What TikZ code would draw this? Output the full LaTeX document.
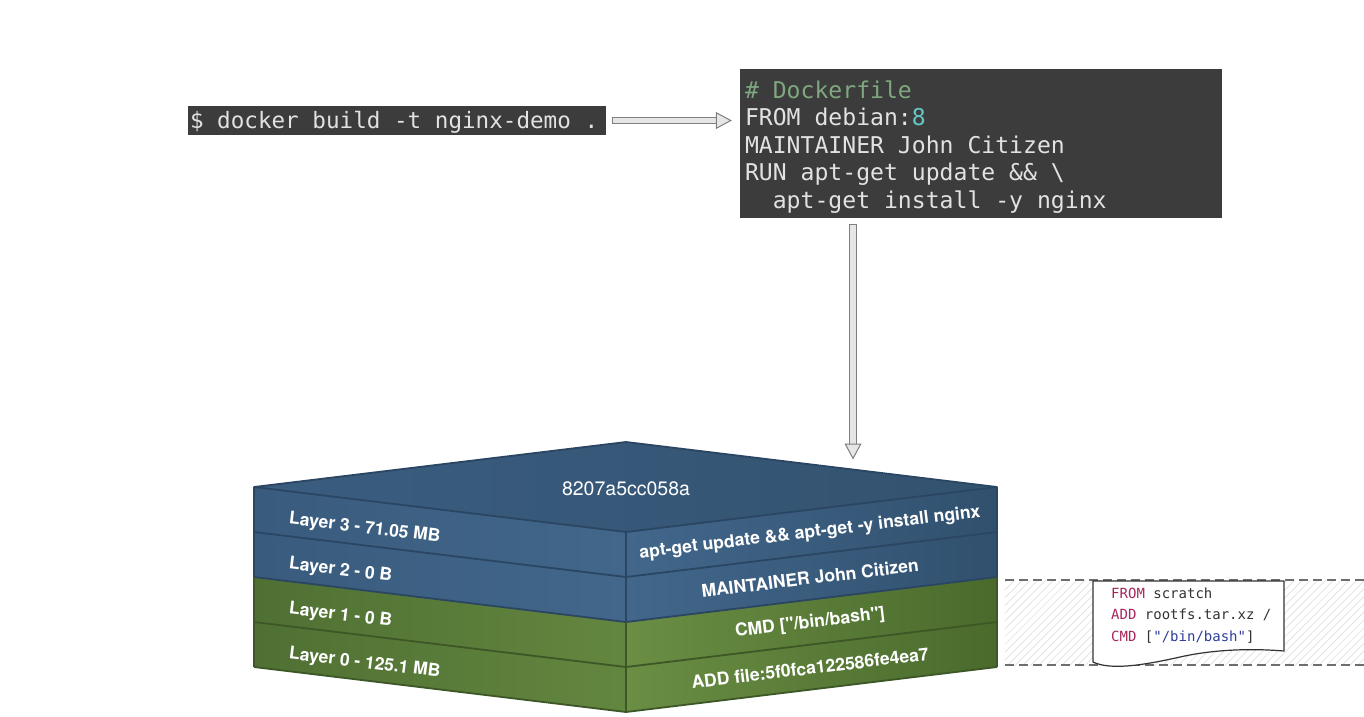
\documentclass[tikz,border=0pt]{standalone}
\usepackage{fontspec}
\setmainfont{TeX Gyre Heros}
\newfontfamily\codefont{DejaVu Sans Mono}
\newcommand\monospaces{\spaceskip=\fontcharwd\font`\a\relax\xspaceskip=\spaceskip}
\usetikzlibrary{arrows.meta,patterns.meta,calc}

\definecolor{codebg}{HTML}{3C3C3C}
\definecolor{codefg}{HTML}{E2E2E2}
\definecolor{codecomment}{HTML}{80A880}
\definecolor{codenum}{HTML}{66C6C6}
\definecolor{arrline}{HTML}{7F7F7F}
\definecolor{arrfill}{HTML}{E6E6E6}
\definecolor{topL}{HTML}{3A5D80}
\definecolor{topM}{HTML}{43688C}
\definecolor{topR}{HTML}{33526F}
\definecolor{blL}{HTML}{395B7D}
\definecolor{blR}{HTML}{42678B}
\definecolor{brL}{HTML}{42678B}
\definecolor{brR}{HTML}{31506E}
\definecolor{glL}{HTML}{4F7033}
\definecolor{glR}{HTML}{63863F}
\definecolor{grL}{HTML}{6A8E44}
\definecolor{grR}{HTML}{4A6A2C}
\definecolor{bedge}{HTML}{2B4663}
\definecolor{gedge}{HTML}{3D5727}
\definecolor{hatchcol}{HTML}{D8D8D8}
\definecolor{dashcol}{HTML}{6E6E6E}
\definecolor{kwcol}{HTML}{A6265D}
\definecolor{plaincol}{HTML}{333333}
\definecolor{strcol}{HTML}{2C3E9B}

\tikzset{
  cmdbox/.style={fill=codebg, text=codefg, align=left},
  hollowarrow/.style n args={2}{draw=arrfill, line width=5.6pt, shorten <=6.8pt, shorten >=#1,
    -{Triangle[length=16pt,width=17pt,line width=1pt,fill=arrfill,color=arrline]},
    preaction={draw=arrline, line width=7.4pt, arrows=-, shorten <=6pt, shorten >=#2}},
  lefttag/.style={anchor=west, text=white, font=\bfseries\fontsize{17.5}{20}\selectfont, inner sep=0pt, rotate=-6.9},
  righttag/.style={anchor=center, text=white, font=\bfseries\fontsize{17.6}{20}\selectfont, inner sep=0pt, rotate=6.9},
  toptag/.style={text=white, font=\fontsize{19.5}{22}\selectfont, inner sep=0pt},
  edgeline/.style={line width=1.8pt, line join=round},
  dashline/.style={draw=dashcol, line width=1.5pt, dash pattern=on 9pt off 5pt},
  docshape/.style={draw=plaincol, fill=white, line width=1.2pt, line join=round},
  doccode/.style={anchor=west, inner sep=0pt, text=plaincol, font=\codefont\fontsize{14}{16}\selectfont}
}

\begin{document}
\begin{tikzpicture}[x=1pt,y=-1pt]
\useasboundingbox (0,0) rectangle (1364,716);
\fill[white] (0,0) rectangle (1364,716);

% command and Dockerfile
\node[cmdbox, font=\codefont\fontsize{22.6}{27.5}\selectfont, text width=414pt, inner xsep=2pt, inner ysep=0pt, minimum height=29pt] (cmd) at (397,120.5)
  {\monospaces\rule{0pt}{21.5pt}\$ docker build -t nginx-demo .};
\node[cmdbox, font=\codefont\fontsize{23.1}{27.5}\selectfont, text width=472pt, inner xsep=5pt, inner ysep=0pt, minimum height=149pt] (df) at (981,143.5)
  {\monospaces\rule{0pt}{24pt}{\color{codecomment}\# Dockerfile}\\
   FROM debian:{\color{codenum}8}\\
   MAINTAINER John Citizen\\
   RUN apt-get update \&\& \textbackslash\\
   \phantom{aa}apt-get install -y nginx};

\coordinate (cubetop) at (853,460);

\draw[hollowarrow={8pt}{23.5pt}] (cmd.east) -- (cmd.east -| df.west);
\draw[hollowarrow={0.5pt}{16pt}] (df.south -| cubetop) -- (cubetop);

% base-image hatched band
\fill[pattern={Lines[angle=45,distance=5.5pt,line width=0.5pt]}, pattern color=hatchcol] (1005,580) rectangle (1364,665);
\draw[dashline] (1005,580) -- (1364,580);
\draw[dashline] (1005,665) -- (1364,665);

% document shape
\draw[docshape] (1093,581) -- (1284,581) -- (1284,651)
  .. controls (1260,649) and (1220,648) .. (1180,657)
  .. controls (1140,666) and (1110,670) .. (1093,662) -- cycle;
\node[doccode] (d1) at (1111,593) {\textcolor{kwcol}{FROM} scratch};
\node[doccode] (d2) at (1111,615) {\textcolor{kwcol}{ADD} rootfs.tar.xz /};
\node[doccode] (d3) at (1111,637.5) {\textcolor{kwcol}{CMD} [\textcolor{strcol}{"/bin/bash"}]};

% cube faces
\foreach \k/\aL/\aR/\cL/\cR in {0/blL/blR/brL/brR, 1/blL/blR/brL/brR, 2/glL/glR/grL/grR, 3/glL/glR/grL/grR}{
  \shade[left color=\aL, right color=\aR] (254,{487+45*\k}) -- (626,{532+45*\k}) -- (626,{577+45*\k}) -- (254,{532+45*\k}) -- cycle;
  \shade[left color=\cL, right color=\cR] (626,{532+45*\k}) -- (997,{487+45*\k}) -- (997,{532+45*\k}) -- (626,{577+45*\k}) -- cycle;
}
\shade[left color=topL, middle color=topM, right color=topR] (254,487) -- (626,442) -- (997,487) -- (626,532) -- cycle;

% cube edges
\foreach \k/\ec in {2/gedge,3/gedge,0/bedge,1/bedge}{
  \draw[edgeline, draw=\ec] (254,{532+45*\k}) -- (626,{577+45*\k}) -- (997,{532+45*\k});
}
\draw[edgeline, draw=gedge] (254,577) -- (254,667);
\draw[edgeline, draw=gedge] (626,622) -- (626,712);
\draw[edgeline, draw=gedge] (997,577) -- (997,667);
\draw[edgeline, draw=bedge] (254,487) -- (254,577);
\draw[edgeline, draw=bedge] (626,532) -- (626,622);
\draw[edgeline, draw=bedge] (997,487) -- (997,577);
\draw[edgeline, draw=bedge] (254,487) -- (626,442) -- (997,487) -- (626,532) -- cycle;

% labels
\node[toptag] (imgid) at (626,489) {8207a5cc058a};
\node[lefttag] (l3) at (289,519.5) {Layer 3 - 71.05 MB};
\node[lefttag] (l2) at (289,564.5) {Layer 2 - 0 B};
\node[lefttag] (l1) at (289,609.5) {Layer 1 - 0 B};
\node[lefttag] (l0) at (289,654.5) {Layer 0 - 125.1 MB};
\node[righttag] (r3) at (810,533) {apt-get update \&\& apt-get -y install nginx};
\node[righttag] (r2) at (810,578) {MAINTAINER John Citizen};
\node[righttag] (r1) at (810,623) {CMD [\textquotedbl/bin/bash\textquotedbl]};
\node[righttag] (r0) at (810,668) {ADD file:5f0fca122586fe4ea7};
\end{tikzpicture}
\end{document}
